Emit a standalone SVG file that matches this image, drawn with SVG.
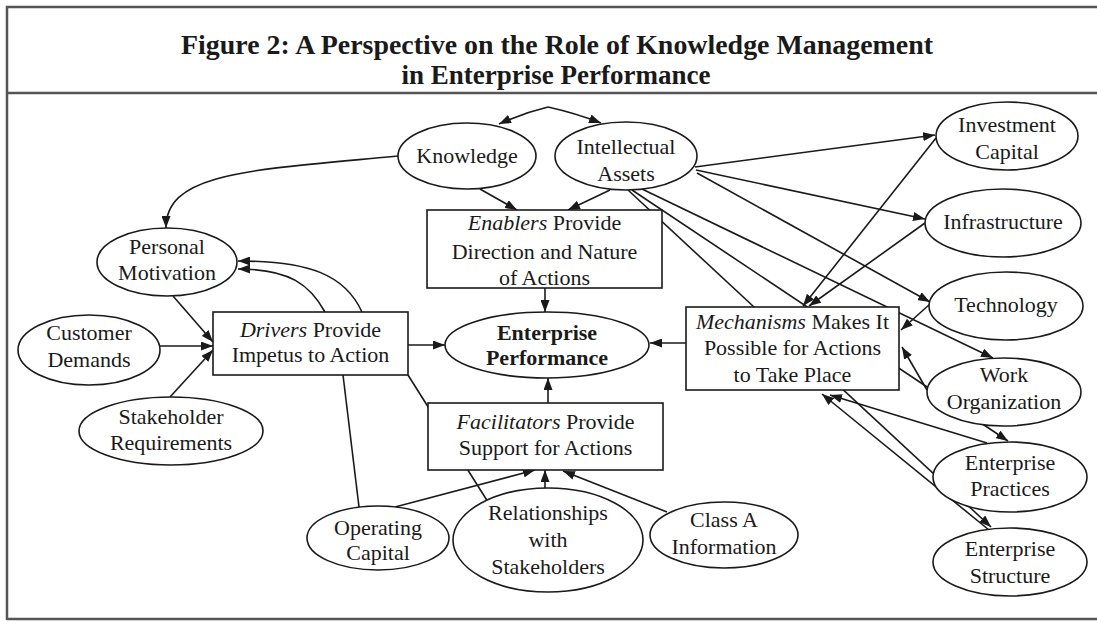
<svg xmlns="http://www.w3.org/2000/svg" width="1097" height="626" viewBox="0 0 1097 626">
<style>
.frame{stroke:#555;stroke-width:2.5;fill:none}
.c{fill:none;stroke:#1a1a1a;stroke-width:1.6}
.a{marker-end:url(#ah)}
.n ellipse,.n rect{fill:#fff;stroke:#1a1a1a;stroke-width:1.6}
text{font-family:"Liberation Serif","Times New Roman",serif;font-size:22px;fill:#1a1a1a;text-anchor:middle}
.t{font-size:27px;font-weight:bold}
.b{font-weight:bold}
.i{font-style:italic}
</style>
<defs>
<marker id="ah" viewBox="0 0 12 9" refX="12" refY="4.5" markerWidth="12" markerHeight="9" markerUnits="userSpaceOnUse" orient="auto" preserveAspectRatio="none">
<path d="M0,0 L12,4.5 L0,9 z" fill="#1a1a1a"/>
</marker>
</defs>
<rect width="1097" height="626" fill="#fff"/>
<g id="frame">
<path class="frame" d="M7,620 L7,7 L1097,7 M7,93 L1097,93 M7,619 L1097,619"/>
<text class="t" x="557" y="54" textLength="752" lengthAdjust="spacingAndGlyphs">Figure 2: A Perspective on the Role of Knowledge Management</text>
<text class="t" x="556" y="84">in Enterprise Performance</text>
</g>
<g id="connectors">
<path class="c a" d="M548,107 Q523,113 499,124"/>
<path class="c a" d="M548,107 Q575,113 601,123"/>
<path class="c a" d="M480,189 L517,210"/>
<path class="c a" d="M610,190 L568,210"/>
<path class="c a" d="M398,156 C250,170 166,172 166,228"/>
<path class="c a" d="M545,288 L545,312"/>
<path class="c a" d="M408,345 L445,345"/>
<path class="c a" d="M548,403 L548,378"/>
<path class="c a" d="M686,343 L650,343"/>
<path class="c a" d="M173,296 L213,342"/>
<path class="c a" d="M160,346 L213,346"/>
<path class="c a" d="M170,397 L213,350"/>
<path class="c a" d="M362,312 C345,275 310,261 238,261"/>
<path class="c a" d="M325,312 C310,285 290,269 238,269"/>
<path class="c" d="M343,375 L359,507"/>
<path class="c" d="M408,375 L488,502"/>
<path class="c a" d="M395,507 L535,470"/>
<path class="c a" d="M545,488 L545,470"/>
<path class="c a" d="M667,512 L563,471"/>
<path class="c a" d="M695,167 L935,135"/>
<path class="c a" d="M696,170 L925,219"/>
<path class="c a" d="M697,173 L930,302"/>
<path class="c a" d="M642,189 L993,358"/>
<path class="c a" d="M632,190 L1008,441"/>
<path class="c a" d="M628,190 L991,527"/>
<path class="c a" d="M936,138 L803,306"/>
<path class="c a" d="M925,223 L809,306"/>
<path class="c a" d="M930,304 L901,330"/>
<path class="c a" d="M927,390 L902,347"/>
<path class="c a" d="M987,443 L830,395"/>
<path class="c a" d="M989,530 L822,394"/>
</g>
<g id="knowledge" class="n"><ellipse cx="467" cy="156" rx="69" ry="33"/><text x="467" y="163">Knowledge</text></g>
<g id="intellectual-assets" class="n"><ellipse cx="626" cy="156" rx="71" ry="34"/><text x="626" y="154">Intellectual</text><text x="626" y="181">Assets</text></g>
<g id="enablers" class="n"><rect x="427" y="210" width="235" height="78"/><text x="544.5" y="230"><tspan class="i">Enablers</tspan> Provide</text><text x="544.5" y="259">Direction and Nature</text><text x="544.5" y="285">of Actions</text></g>
<g id="personal-motivation" class="n"><ellipse cx="167" cy="262" rx="70" ry="34"/><text x="167" y="254">Personal</text><text x="167" y="280">Motivation</text></g>
<g id="customer-demands" class="n"><ellipse cx="89" cy="350" rx="71" ry="35"/><text x="89" y="340">Customer</text><text x="89" y="367">Demands</text></g>
<g id="stakeholder-requirements" class="n"><ellipse cx="171" cy="431" rx="92" ry="34"/><text x="171" y="424">Stakeholder</text><text x="171" y="450">Requirements</text></g>
<g id="drivers" class="n"><rect x="213" y="312" width="195" height="63"/><text x="310.5" y="337"><tspan class="i">Drivers</tspan> Provide</text><text x="310.5" y="362">Impetus to Action</text></g>
<g id="enterprise-performance" class="n"><ellipse cx="547" cy="345" rx="102" ry="33"/><text class="b" x="547" y="340">Enterprise</text><text class="b" x="547" y="365">Performance</text></g>
<g id="facilitators" class="n"><rect x="428" y="403" width="235" height="67"/><text x="545.5" y="429"><tspan class="i">Facilitators</tspan> Provide</text><text x="545.5" y="455">Support for Actions</text></g>
<g id="mechanisms" class="n"><rect x="686" y="307" width="213" height="83"/><text x="792.5" y="329"><tspan class="i">Mechanisms</tspan> Makes It</text><text x="792.5" y="355">Possible for Actions</text><text x="792.5" y="382">to Take Place</text></g>
<g id="operating-capital" class="n"><ellipse cx="378" cy="538" rx="71" ry="32"/><text x="378" y="535">Operating</text><text x="378" y="560">Capital</text></g>
<g id="relationships" class="n"><ellipse cx="548" cy="540" rx="95" ry="52"/><text x="548" y="520">Relationships</text><text x="548" y="547">with</text><text x="548" y="574">Stakeholders</text></g>
<g id="class-a-information" class="n"><ellipse cx="724" cy="535" rx="74" ry="33"/><text x="724" y="527">Class A</text><text x="724" y="554">Information</text></g>
<g id="investment-capital" class="n"><ellipse cx="1007" cy="136" rx="71" ry="34"/><text x="1007" y="132">Investment</text><text x="1007" y="159">Capital</text></g>
<g id="infrastructure" class="n"><ellipse cx="1003" cy="223" rx="78" ry="34"/><text x="1003" y="229">Infrastructure</text></g>
<g id="technology" class="n"><ellipse cx="1006" cy="306" rx="77" ry="34"/><text x="1006" y="312">Technology</text></g>
<g id="work-organization" class="n"><ellipse cx="1004" cy="392" rx="77" ry="34"/><text x="1004" y="382">Work</text><text x="1004" y="409">Organization</text></g>
<g id="enterprise-practices" class="n"><ellipse cx="1010" cy="477" rx="77" ry="35"/><text x="1010" y="470">Enterprise</text><text x="1010" y="496">Practices</text></g>
<g id="enterprise-structure" class="n"><ellipse cx="1010" cy="562" rx="77" ry="34"/><text x="1010" y="556">Enterprise</text><text x="1010" y="583">Structure</text></g>
</svg>
